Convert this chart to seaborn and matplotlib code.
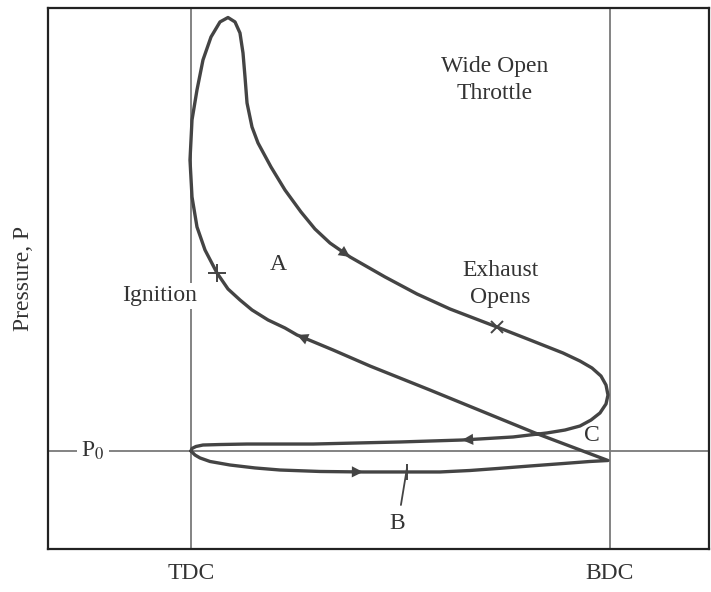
import matplotlib
matplotlib.use("Agg")
import matplotlib.pyplot as plt
import seaborn as sns
import pandas as pd

# ---- data (volume: TDC=0, BDC=1; pressure: P0 = 1, arbitrary units) ----
volume = [0.000, 0.0095, 0.0215, 0.0453, 0.0931, 0.1527, 0.2124, 0.3079, 0.4105, 0.5155,
          0.5943, 0.6659, 0.7303, 0.8091, 0.8878, 0.9523, 0.9952,
          0.8210, 0.5704, 0.4272, 0.3389, 0.2530, 0.2243, 0.1838, 0.1456, 0.1169,
          0.0883, 0.0621, 0.0334, 0.0143, 0.0024, -0.0024, 0.0024, 0.0143, 0.0286,
          0.0477, 0.0692, 0.0883, 0.1050, 0.1169, 0.1241, 0.1289, 0.1337, 0.1456,
          0.1599, 0.1909, 0.2243, 0.2625, 0.2959, 0.3317, 0.3795, 0.4630, 0.5394,
          0.6181, 0.7303, 0.8091, 0.8878, 0.9284, 0.9570, 0.9785, 0.9905, 0.9952,
          0.9905, 0.9761, 0.9547, 0.9284, 0.8926, 0.8496, 0.7685, 0.6468, 0.4988,
          0.2912, 0.1337, 0.0692, 0.0286, 0.0119, 0.0024, 0.000]
pressure = [1.000, 0.959, 0.929, 0.893, 0.857, 0.827, 0.806, 0.791, 0.786, 0.786,
            0.786, 0.801, 0.821, 0.847, 0.872, 0.893, 0.903,
            1.184, 1.622, 1.867, 2.031, 2.184, 2.255, 2.337, 2.439, 2.541,
            2.653, 2.816, 3.051, 3.286, 3.592, 3.969, 4.378, 4.684, 4.990,
            5.224, 5.378, 5.423, 5.378, 5.265, 5.061, 4.816, 4.551, 4.306,
            4.143, 3.898, 3.663, 3.439, 3.265, 3.122, 2.980, 2.776, 2.602,
            2.449, 2.265, 2.133, 2.000, 1.918, 1.847, 1.765, 1.673, 1.571,
            1.480, 1.388, 1.316, 1.255, 1.214, 1.184, 1.143, 1.112, 1.092,
            1.071, 1.071, 1.066, 1.061, 1.046, 1.026, 1.000]
p0 = 1.0
tick_positions = [0.0, 1.0]
tick_labels = ["TDC", "BDC"]
ignition_idx = 27
exhaust_idx = 54
b_idx = 9
arrow_idx = [8, 21, 50, 69]

df = pd.DataFrame({"V": volume, "P": pressure})

sns.set_theme(style="white")
plt.rcParams["font.family"] = ["Liberation Serif", "DejaVu Serif"]
plt.rcParams["mathtext.fontset"] = "stix"

fig = plt.figure(figsize=(7.11, 5.92), dpi=100)
ax = fig.add_axes([48 / 711, 1 - 549 / 592, (709 - 48) / 711, (549 - 8) / 592])
ax.set_xlim(-0.3413, 1.2363)
ax.set_ylim(0, 5.52)

grey = "#7a7a7a"
curve = "#444444"
txt = "#333333"

# reference lines
ax.axvline(0, color=grey, lw=1.3, zorder=1)
ax.axvline(1, color=grey, lw=1.3, zorder=1)
ax.axhline(p0, color=grey, lw=1.3, zorder=1)

# cycle curve
sns.lineplot(data=df, x="V", y="P", sort=False, estimator=None, ax=ax,
             color=curve, lw=2.4, zorder=3)
for ln in ax.lines:
    ln.set_solid_joinstyle("round")
    ln.set_solid_capstyle("round")

# arrowheads along curve
for i in arrow_idx:
    ax.annotate("", xy=(volume[i], pressure[i]), xytext=(volume[i - 1], pressure[i - 1]),
                arrowprops=dict(arrowstyle="-|>", color=curve, lw=0.01,
                                mutation_scale=20, shrinkA=0, shrinkB=0),
                zorder=4)

# tick marks on curve
ax.plot(volume[ignition_idx], pressure[ignition_idx], marker="+", ms=13, mew=1.4,
        color=curve, zorder=4)
ax.plot(volume[exhaust_idx], pressure[exhaust_idx], marker="x", ms=9, mew=1.4,
        color=curve, zorder=4)
ax.plot(volume[b_idx], pressure[b_idx], marker="|", ms=11, mew=1.4,
        color=curve, zorder=4)
ax.plot([0.501, volume[b_idx]], [0.449, pressure[b_idx] + 0.04], color=curve, lw=1.3, zorder=4)

fs = 17
ax.text(0.7255, 4.786, "Wide Open\nThrottle", ha="center", va="center", fontsize=fs,
        color=txt, linespacing=1.35)
ax.text(0.2076, 2.898, "A", ha="center", va="center", fontsize=fs, color=txt)
ax.text(-0.074, 2.582, "Ignition", ha="center", va="center", fontsize=fs, color=txt,
        bbox=dict(fc="white", ec="none", pad=1.5), zorder=2)
ax.text(0.7375, 2.704, "Exhaust\nOpens", ha="center", va="center", fontsize=fs,
        color=txt, linespacing=1.35)
ax.text(0.957, 1.153, "C", ha="center", va="center", fontsize=fs, color=txt)
ax.text(0.4916, 0.265, "B", ha="center", va="center", fontsize=fs, color=txt)
ax.text(-0.234, p0, r"P$_0$", ha="center", va="center", fontsize=fs, color=txt,
        bbox=dict(fc="white", ec="none", pad=3), zorder=2)

ax.set_xticks(tick_positions)
ax.set_xticklabels(tick_labels, fontsize=fs, color=txt)
ax.set_yticks([])
ax.tick_params(axis="x", length=0, pad=10)
ax.set_xlabel("")
ax.set_ylabel("Pressure, P", fontsize=fs, color=txt, labelpad=10)
for s in ax.spines.values():
    s.set_color("#222222")
    s.set_linewidth(1.6)

fig.savefig("out.png", dpi=100, facecolor="white")
